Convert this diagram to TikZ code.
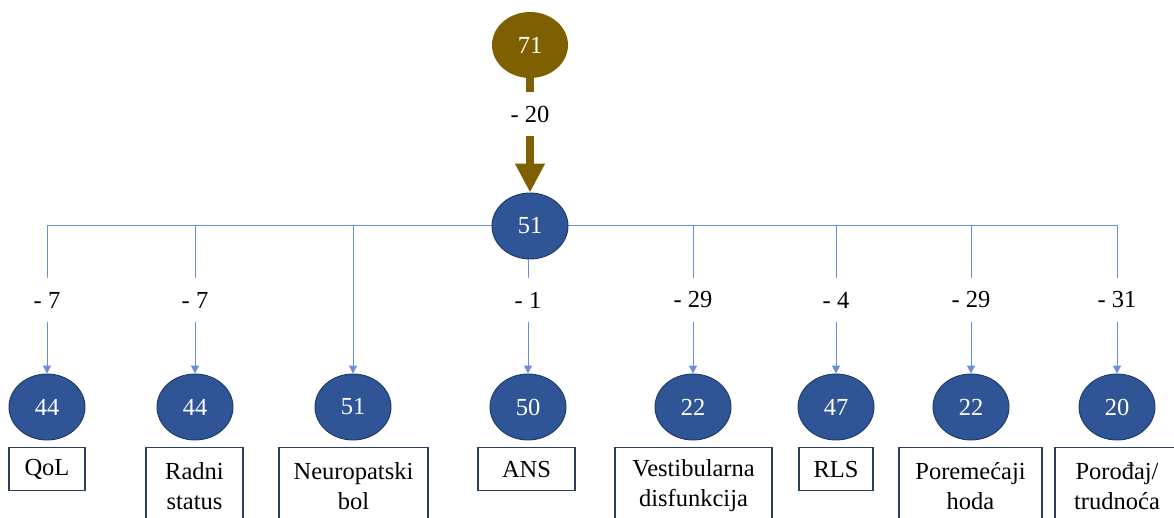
\documentclass[tikz,border=0pt]{standalone}
\usepackage{fontspec}
\setmainfont{Liberation Serif}
\usetikzlibrary{shapes.geometric,arrows.meta,backgrounds}
\definecolor{nodeblue}{HTML}{2F5597}
\definecolor{bordblue}{HTML}{1F3864}
\definecolor{connblue}{HTML}{6A8FD6}
\definecolor{boxblue}{HTML}{2B3F63}
\definecolor{gold}{HTML}{7F6000}
\newcommand\myfs{\fontsize{24.5}{30}\selectfont}
\tikzset{
  num/.style={ellipse, draw=bordblue, fill=nodeblue, text=white, line width=0.9pt,
    minimum width=76pt, minimum height=66pt, inner sep=0pt, font=\myfs},
  topnum/.style={ellipse, fill=gold, text=white,
    minimum width=76pt, minimum height=66pt, inner sep=0pt, font=\myfs},
  lab/.style={minimum height=43pt, inner sep=0pt, font=\myfs},
  conn/.style={draw=connblue, line width=1pt},
  arr/.style={conn, -{Triangle[width=8pt,length=8pt]}},
  catbox/.style={draw=boxblue, line width=1.4pt, anchor=north, align=center,
    inner sep=0pt, font=\myfs},
  onebox/.style={catbox, minimum height=43pt},
  twobox/.style={catbox, minimum height=76pt},
  bigarrow/.style={draw=gold, line width=8pt}
}
\begin{document}
\begin{tikzpicture}[x=1pt,y=-1pt]
\useasboundingbox (0,0) rectangle (1174,517);
\clip (0,0) rectangle (1174,517);
% top
\node[topnum] (n71) at (530,45) {71};
\node[lab] (l0) at (530,114) {- 20};
\node[num] (n51) at (530,226) {51};
\draw[bigarrow] (n71.south) -- (l0.north);
\draw[bigarrow, -{Triangle[width=28pt,length=29pt]}] (l0.south) -- (n51.north);
% children
\node[num] (c1) at (47,407) {44};
\node[num] (c2) at (195,407) {44};
\node[num] (c3) at (353,407) {51};
\node[num] (c4) at (528,407) {50};
\node[num] (c5) at (693,407) {22};
\node[num] (c6) at (836,407) {47};
\node[num] (c7) at (971,407) {22};
\node[num] (c8) at (1117,407) {20};
% labels
\node[lab] (l1) at (47,300) {- 7};
\node[lab] (l2) at (195,300) {- 7};
\node[lab] (l4) at (528,300) {- 1};
\node[lab] (l5) at (693,300) {- 29};
\node[lab] (l6) at (836,300) {- 4};
\node[lab] (l7) at (971,300) {- 29};
\node[lab] (l8) at (1117,300) {- 31};
% boxes
\node[onebox, minimum width=76pt] (b1) at (47,447) {QoL};
\node[twobox, minimum width=97pt] (b2) at (194.5,447) {Radni\\status};
\node[twobox, minimum width=149pt] (b3) at (353.5,447) {Neuropatski\\bol};
\node[onebox, minimum width=97pt] (b4) at (526.5,447) {ANS};
\node[twobox, minimum width=157pt] (b5) at (693.5,447) {Vestibularna\\disfunkcija};
\node[onebox, minimum width=74pt] (b6) at (836,447) {RLS};
\node[twobox, minimum width=143pt] (b7) at (970.5,447) {Poremećaji\\hoda};
\node[twobox, minimum width=124pt] (b8) at (1117,447) {Porođaj/\\trudnoća};
% bus
\coordinate (t1) at (47,225);
\coordinate (t2) at (195,225);
\coordinate (t3) at (353,225);
\coordinate (t5) at (693,225);
\coordinate (t6) at (836,225);
\coordinate (t7) at (971,225);
\coordinate (t8) at (1117,225);
\begin{scope}[on background layer]
\draw[conn] (t1) -- (t8);
\end{scope}
\draw[conn] (t1) -- (l1.north);
\draw[arr] (l1.south) -- (c1.north);
\draw[conn] (t2) -- (l2.north);
\draw[arr] (l2.south) -- (c2.north);
\draw[arr] (t3) -- (c3.north);
\draw[conn] (n51.south -| l4.north) -- (l4.north);
\draw[arr] (l4.south) -- (c4.north);
\draw[conn] (t5) -- (l5.north);
\draw[arr] (l5.south) -- (c5.north);
\draw[conn] (t6) -- (l6.north);
\draw[arr] (l6.south) -- (c6.north);
\draw[conn] (t7) -- (l7.north);
\draw[arr] (l7.south) -- (c7.north);
\draw[conn] (t8) -- (l8.north);
\draw[arr] (l8.south) -- (c8.north);
\end{tikzpicture}
\end{document}
